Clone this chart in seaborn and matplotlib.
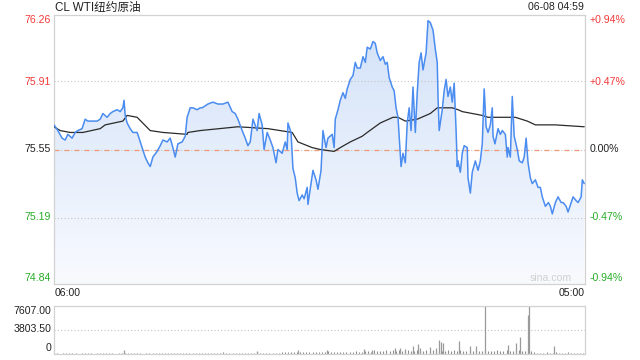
import numpy as np
import pandas as pd
import matplotlib
matplotlib.use("Agg")
import matplotlib.pyplot as plt
from matplotlib.colors import LinearSegmentedColormap
import seaborn as sns

# ---------------- data ----------------
title = "CL WTI纽约原油"
timestamp = "06-08 04:59"
prev_close = 75.55
x_labels = ["06:00", "05:00"]
price_tick_labels = ["76.26", "75.91", "75.55", "75.19", "74.84"]
price_tick_values = [76.26, 75.91, 75.55, 75.19, 74.84]
pct_tick_labels = ["+0.94%", "+0.47%", "0.00%", "-0.47%", "-0.94%"]
vol_tick_labels = ["7607.00", "3803.50", "0"]
vol_tick_values = [7607.0, 3803.5, 0.0]

price_minutes = [
    0, 10, 21, 29, 36, 47, 55, 62, 73, 81,
    88, 99, 112, 120, 127, 138, 146, 153, 164, 172,
    179, 182, 185, 190, 198, 205, 216, 221, 229, 237,
    244, 250, 257, 268, 276, 283, 294, 302, 309, 315,
    322, 333, 341, 346, 354, 361, 372, 380, 385, 400,
    413, 426, 439, 452, 463, 471, 478, 489, 497, 504,
    510, 517, 528, 533, 541, 546, 554, 562, 569, 577,
    582, 593, 601, 606, 608, 616, 621, 627, 632, 637,
    645, 650, 658, 660, 668, 673, 681, 686, 694, 699,
    707, 712, 723, 728, 731, 738, 744, 751, 757, 762,
    770, 777, 783, 788, 796, 803, 809, 814, 822, 829,
    835, 840, 848, 855, 861, 866, 871, 879, 884, 889,
    894, 897, 902, 907, 913, 918, 923, 928, 933, 939,
    944, 949, 954, 959, 967, 972, 978, 985, 991, 996,
    998, 1001, 1009, 1014, 1019, 1024, 1030, 1035, 1040, 1045,
    1048, 1050, 1056, 1061, 1066, 1074, 1076, 1082, 1087, 1095,
    1102, 1108, 1113, 1118, 1123, 1128, 1134, 1139, 1141, 1146,
    1154, 1160, 1165, 1173, 1178, 1180, 1186, 1191, 1196, 1204,
    1209, 1217, 1222, 1227, 1232, 1238, 1243, 1251, 1258, 1264,
    1269, 1277, 1285, 1290, 1295, 1303, 1310, 1318, 1323, 1331,
    1336, 1344, 1349, 1357, 1362, 1370, 1373, 1378,
]
price_values = [
    75.68, 75.65, 75.61, 75.60, 75.63, 75.61, 75.64, 75.65, 75.66, 75.71,
    75.70, 75.70, 75.70, 75.71, 75.74, 75.72, 75.74, 75.75, 75.76, 75.75,
    75.77, 75.81, 75.73, 75.69, 75.66, 75.64, 75.64, 75.61, 75.56, 75.51,
    75.48, 75.46, 75.51, 75.54, 75.57, 75.60, 75.59, 75.61, 75.56, 75.51,
    75.58, 75.59, 75.62, 75.72, 75.77, 75.77, 75.76, 75.77, 75.77, 75.79,
    75.80, 75.79, 75.79, 75.80, 75.75, 75.74, 75.71, 75.65, 75.61, 75.57,
    75.59, 75.71, 75.65, 75.74, 75.68, 75.55, 75.64, 75.60, 75.56, 75.48,
    75.55, 75.53, 75.59, 75.55, 75.69, 75.64, 75.45, 75.40, 75.32, 75.28,
    75.31, 75.29, 75.35, 75.26, 75.37, 75.44, 75.39, 75.34, 75.44, 75.65,
    75.56, 75.61, 75.63, 75.56, 75.71, 75.76, 75.81, 75.85, 75.82, 75.87,
    75.92, 75.94, 76.01, 75.98, 75.98, 76.04, 76.01, 76.09, 76.08, 76.12,
    76.11, 76.06, 76.02, 76.04, 76.00, 76.01, 75.93, 75.88, 75.86, 75.77,
    75.72, 75.62, 75.46, 75.53, 75.48, 75.69, 75.77, 75.65, 75.88, 75.64,
    75.85, 76.01, 76.06, 75.97, 76.06, 76.23, 76.22, 76.18, 76.08, 76.01,
    75.83, 75.65, 75.76, 75.86, 75.92, 75.83, 75.88, 75.80, 75.90, 75.65,
    75.46, 75.49, 75.43, 75.53, 75.57, 75.56, 75.40, 75.32, 75.43, 75.49,
    75.44, 75.49, 75.58, 75.87, 75.67, 75.64, 75.68, 75.77, 75.62, 75.58,
    75.66, 75.63, 75.65, 75.63, 75.51, 75.56, 75.51, 75.83, 75.62, 75.55,
    75.49, 75.48, 75.51, 75.61, 75.48, 75.40, 75.37, 75.39, 75.35, 75.35,
    75.30, 75.25, 75.27, 75.25, 75.21, 75.27, 75.30, 75.27, 75.27, 75.25,
    75.22, 75.27, 75.30, 75.28, 75.27, 75.30, 75.39, 75.37,
]

avg_minutes = [0, 16, 42, 75, 120, 133, 179, 190, 216, 250,
               283, 346, 348, 380, 478, 556, 619, 634, 671, 692,
               728, 744, 770, 801, 814, 848, 881, 894, 913, 944,
               978, 996, 1035, 1050, 1061, 1113, 1128, 1199, 1230, 1251,
               1303, 1378]
avg_values = [75.67, 75.65, 75.64, 75.64, 75.66, 75.68, 75.70, 75.73, 75.72, 75.65,
              75.64, 75.63, 75.64, 75.65, 75.67, 75.66, 75.64, 75.59, 75.56, 75.55,
              75.54, 75.56, 75.59, 75.62, 75.64, 75.69, 75.72, 75.72, 75.70, 75.71,
              75.74, 75.77, 75.77, 75.76, 75.75, 75.73, 75.72, 75.72, 75.70, 75.68,
              75.68, 75.67]

vol_early = [90, 140, 60, 120, 100, 80, 150, 110, 70, 130, 90, 160, 100, 60, 120, 140, 80, 110,
             150, 90, 70, 130, 100, 120, 80, 160, 110, 90, 140, 70, 120, 100, 150, 80, 130, 110, 90]
vol_morning = [140, 180, 110, 200, 150, 120, 190, 160, 230, 130, 170, 140, 210, 180, 120, 160, 200, 150,
               250, 130, 190, 170, 140, 220, 160, 180, 130, 210, 150, 240, 170, 140, 200, 190, 160, 230]
vol_midday = [220, 300, 260, 350, 240, 310, 280, 390, 250, 330, 270, 360, 300, 240, 340, 280, 410, 260,
              320, 290, 370, 250, 340, 310, 280, 400, 330, 360]
vol_active = [420, 510, 380, 600, 470, 550, 430, 640, 490, 560, 410, 580, 520, 460, 620, 500, 440, 590,
              530, 470, 650, 480, 560, 420, 610, 540, 470, 580, 500, 630, 450, 560, 520, 480, 600, 430,
              570, 510, 460, 620, 490, 540, 410, 580, 500, 450, 560, 480, 530, 420, 590, 470, 510, 440, 400]
vol_late = [260, 190, 230, 170, 280, 210, 150, 240, 190, 220, 160, 250, 180, 210, 140, 200, 170]
vol_step = 8

spike_minutes = [182, 528, 634, 710, 806, 827, 887, 900, 913, 933, 946, 952, 978, 993, 1001,
                 1006, 1011, 1053, 1082, 1097, 1121, 1180, 1201, 1212, 1232, 1235, 1300]
spike_values = [680, 520, 680, 680, 780, 680, 900, 1000, 800, 1200, 1600, 900, 1100, 900, 2240,
                1980, 1820, 2080, 1200, 1300, 7607, 1460, 1720, 2760, 6150, 7607, 1300]

# ---------------- style ----------------
sns.set_theme(style="white")
plt.rcParams["font.family"] = ["Liberation Sans", "Noto Sans CJK SC", "DejaVu Sans"]

RED = "#f23a3a"
GREEN = "#27ad27"
BLACK = "#222222"
FRAME = "#d2d2d2"
GRID = "#c4c4c4"
LINE = "#4a8cf0"

W, H = 640, 360
fig = plt.figure(figsize=(6.4, 3.6), dpi=100)
fig.patch.set_facecolor("white")

def fx(px):
    return px / W

def fy(py):
    return 1 - py / H

ax = fig.add_axes([fx(54), fy(284), fx(585) - fx(54), fy(15) - fy(284)])
axv = fig.add_axes([fx(54), fy(354), fx(585) - fx(54), fy(306) - fy(354)])

total_minutes = 1380
half_range = 0.71
ymin, ymax = prev_close - half_range, prev_close + half_range

df = pd.DataFrame({"minute": price_minutes, "price": price_values})
df_avg = pd.DataFrame({"minute": avg_minutes, "avg": avg_values})

ax.set_xlim(0, total_minutes)
ax.set_ylim(ymin, ymax)

# gradient area under the price line
poly = ax.fill_between(df["minute"], df["price"], ymin, color="none", lw=0)
grad = np.linspace(0, 1, 256).reshape(-1, 1)
cmap = LinearSegmentedColormap.from_list("fade", ["#f8fafe", "#d2e1f8"])
im = ax.imshow(grad, extent=[0, total_minutes, ymin, ymax], origin="lower",
               aspect="auto", cmap=cmap, zorder=1, interpolation="bilinear")
im.set_clip_path(poly.get_paths()[0], transform=ax.transData)

# grid lines
for v in [price_tick_values[1], price_tick_values[3]]:
    ax.axhline(v, color=GRID, lw=0.8, ls=(0, (1, 2)), zorder=2)
ax.axhline(prev_close, color=GRID, lw=0.8, ls=(0, (1, 2)), zorder=2)
ax.axhline(prev_close, color="#ec9a78", lw=0.9, ls=(0, (4, 4)), zorder=2)

sns.lineplot(data=df_avg, x="minute", y="avg", ax=ax, color="#2a2a2a", lw=0.9,
             sort=False, estimator=None, zorder=3)
sns.lineplot(data=df, x="minute", y="price", ax=ax, color=LINE, lw=1.1,
             sort=False, estimator=None, zorder=4)

ax.set_xlabel("")
ax.set_ylabel("")
ax.set_xticks([])
ax.set_yticks([])
for s in ax.spines.values():
    s.set_color(FRAME)
    s.set_linewidth(0.9)

# tick labels (placed as text, like the source chart)
label_py = [20, 82, 149, 217, 278]
label_colors = [RED, RED, BLACK, GREEN, GREEN]
fs = 7.6
for lab, pct, py, c in zip(price_tick_labels, pct_tick_labels, label_py, label_colors):
    fig.text(fx(51), fy(py), lab, ha="right", va="center", color=c, fontsize=fs)
    fig.text(fx(590), fy(py), pct, ha="left", va="center", color=c, fontsize=fs)

fig.text(fx(55), fy(7.5), title, ha="left", va="center", color="#222222", fontsize=8.4)
fig.text(fx(584), fy(7.5), timestamp, ha="right", va="center", color="#222222", fontsize=7.6)
fig.text(fx(55), fy(293), x_labels[0], ha="left", va="center", color="#222222", fontsize=fs)
fig.text(fx(585), fy(293), x_labels[1], ha="right", va="center", color="#222222", fontsize=fs)
ax.text(0.975, 0.022, "sina.com", transform=ax.transAxes, ha="right", va="center",
        color="#d0d0d0", fontsize=7.6, zorder=5)

# ---------------- volume ----------------
vol_values = vol_early + vol_morning + vol_midday + vol_active + vol_late
vol_minutes = np.arange(len(vol_values)) * vol_step
axv.set_xlim(0, total_minutes)
axv.set_ylim(0, vol_tick_values[0])
axv.axhline(vol_tick_values[0], color=GRID, lw=0.8, ls=(0, (1, 2)))
axv.axhline(vol_tick_values[1], color=GRID, lw=0.8, ls=(0, (1, 2)))
axv.vlines(vol_minutes, 0, vol_values, color="#8f8f8f", lw=0.8)
axv.vlines(spike_minutes, 0, spike_values, color="#9a9a9a", lw=0.9)
axv.set_xticks([])
axv.set_yticks([])
for s in axv.spines.values():
    s.set_color(FRAME)
    s.set_linewidth(0.9)

for lab, py in zip(vol_tick_labels, [311, 329, 348]):
    fig.text(fx(51), fy(py), lab, ha="right", va="center", color="#222222", fontsize=fs)

fig.savefig("out.png", dpi=100, facecolor="white")
